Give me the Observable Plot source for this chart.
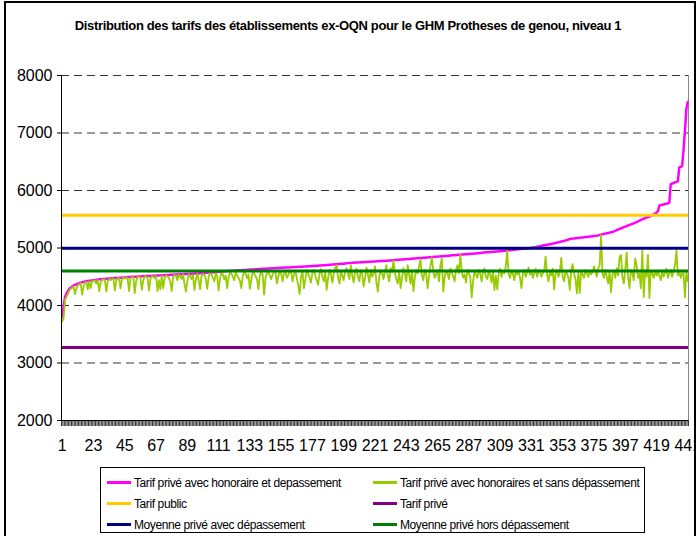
<!DOCTYPE html>
<html><head><meta charset="utf-8">
<script src="https://cdn.jsdelivr.net/npm/d3@7"></script>
<script src="https://cdn.jsdelivr.net/npm/@observablehq/plot@0.6"></script>
<style>
body{margin:0;background:#fff;font-family:Arial,"Liberation Sans",sans-serif;}
#frame{position:relative;width:696px;height:536px;overflow:hidden;background:#fff;}
#chart{position:absolute;left:0;top:0;}
#border{position:absolute;left:4px;top:1px;width:692px;height:545px;border:2px solid #000;box-sizing:border-box;pointer-events:none;}
#title{position:absolute;left:0;width:696px;top:18px;text-align:center;font-weight:bold;font-size:13px;letter-spacing:-0.35px;color:#000;}
#legend{position:absolute;left:100px;top:467px;width:545px;height:66px;border:1px solid #000;box-sizing:border-box;background:#fff;}
.item{position:absolute;height:14px;font-size:12px;letter-spacing:-0.4px;line-height:14px;white-space:nowrap;color:#000;}
.sw{display:inline-block;width:24px;height:3px;vertical-align:middle;margin-right:3px;position:relative;top:-1px;}
</style>
</head><body>
<div id="frame">
  <div id="chart"></div>
  <div id="title">Distribution des tarifs des établissements ex-OQN pour le GHM Protheses de genou, niveau 1</div>
  <div id="legend"></div>
  <div id="border"></div>
</div>
<script>
// Tarif privé avec honoraire et dépassement (sorted), rank 1..441
const tarifAvecDepassement = [
3800,3990,4150,4210,4250,4290,4310,4330,4345,4360,4370,4381,4390,4398,4405,4411,4416,4421,4426,4430,
4433,4437,4440,4443,4447,4450,4455,4457,4459,4461,4463,4465,4467,4469,4471,4473,4475,4477,4478,4480,
4481,4482,4484,4486,4488,4490,4492,4494,4496,4498,4500,4501,4502,4503,4505,4506,4507,4508,4510,4511,
4512,4514,4515,4516,4518,4519,4520,4522,4523,4524,4526,4527,4528,4530,4531,4532,4534,4535,4536,4538,
4539,4540,4541,4543,4544,4545,4546,4548,4549,4550,4551,4552,4553,4555,4556,4557,4558,4560,4562,4564,
4566,4568,4570,4572,4574,4576,4578,4580,4582,4584,4586,4588,4590,4592,4594,4596,4598,4600,4601,4603,
4604,4606,4608,4609,4611,4612,4614,4616,4617,4619,4620,4622,4624,4625,4627,4628,4630,4632,4633,4635,
4637,4638,4640,4641,4643,4644,4645,4647,4648,4650,4651,4652,4654,4655,4656,4658,4659,4660,4662,4663,
4664,4666,4667,4668,4670,4671,4672,4674,4675,4676,4678,4679,4680,4682,4683,4684,4686,4687,4688,4690,
4692,4694,4696,4698,4700,4702,4704,4706,4708,4710,4712,4714,4716,4718,4720,4722,4724,4726,4728,4731,
4734,4737,4740,4741,4743,4744,4746,4747,4749,4750,4752,4753,4755,4756,4758,4759,4761,4762,4764,4765,
4767,4768,4770,4771,4773,4774,4776,4777,4779,4780,4782,4784,4786,4788,4790,4792,4794,4796,4798,4800,
4802,4804,4806,4808,4810,4812,4814,4816,4818,4820,4822,4824,4826,4828,4830,4832,4834,4836,4838,4840,
4842,4844,4846,4848,4850,4852,4854,4856,4858,4860,4862,4864,4867,4870,4872,4874,4876,4878,4880,4882,
4884,4886,4888,4890,4892,4894,4896,4898,4900,4902,4904,4906,4908,4910,4913,4916,4920,4922,4924,4926,
4928,4930,4932,4934,4936,4938,4940,4942,4944,4946,4948,4950,4953,4956,4959,4962,4965,4968,4971,4974,
4977,4980,4983,4985,4987,4989,4990,4992,4993,4995,5000,5005,5010,5015,5020,5025,5030,5036,5042,5048,
5052,5056,5060,5064,5070,5076,5082,5088,5094,5100,5106,5112,5118,5124,5130,5138,5146,5156,5160,5163,
5166,5169,5172,5175,5178,5181,5184,5187,5190,5193,5196,5199,5202,5205,5208,5211,5214,5220,5226,5232,
5238,5244,5250,5256,5262,5268,5274,5280,5288,5300,5312,5322,5332,5342,5352,5362,5372,5382,5392,5402,
5410,5418,5428,5440,5452,5464,5476,5488,5500,5510,5520,5530,5540,5548,5555,5570,5585,5600,5615,5640,
5736,5745,5752,5758,5764,5770,5776,5790,6110,6120,6130,6140,6151,6160,6400,6410,6423,6700,7047,7420,7540
];
// Tarif privé avec honoraires et sans dépassement, same establishments
const tarifSansDepassement = [
3720,3780,4100,4150,4200,4260,4290,4310,4330,4200,4300,4350,4370,4385,4190,4330,4400,4410,4280,4420,
4300,4420,4430,4435,4380,4440,4250,4400,4450,4455,4450,4240,4420,4460,4440,4465,4470,4260,4430,4470,
4475,4300,4460,4480,4470,4485,4480,4250,4470,4490,4495,4215,4420,4495,4500,4480,4270,4440,4505,4500,
4490,4260,4460,4510,4500,4480,4515,4250,4440,4280,4520,4300,4470,4525,4510,4480,4420,4250,4490,4530,
4520,4440,4535,4500,4460,4540,4380,4240,4420,4540,4520,4460,4530,4270,4450,4550,4440,4280,4520,4550,
4530,4460,4290,4500,4560,4545,4480,4420,4560,4510,4260,4470,4565,4540,4450,4520,4300,4490,4570,4560,
4500,4440,4575,4520,4480,4430,4300,4520,4580,4560,4470,4540,4290,4450,4585,4560,4510,4460,4280,4520,
4590,4540,4190,4480,4560,4590,4520,4460,4540,4595,4580,4380,4500,4600,4550,4420,4560,4600,4480,4530,
4610,4580,4420,4540,4610,4470,4350,4200,4500,4600,4300,4450,4620,4560,4480,4400,4580,4620,4520,4440,
4360,4560,4630,4500,4420,4580,4270,4480,4620,4540,4400,4560,4650,4700,4480,4380,4590,4520,4440,4600,
4650,4560,4460,4700,4520,4400,4580,4640,4500,4420,4610,4560,4330,4480,4660,4540,4400,4620,4500,4560,
4680,4400,4240,4500,4620,4560,4460,4600,4700,4520,4420,4650,4580,4780,4560,4460,4380,4600,4300,4480,
4650,4560,4420,4700,4540,4380,4600,4250,4480,4620,4560,4680,4800,4520,4440,4620,4560,4300,4500,4680,
4835,4600,4480,4540,4620,4420,4700,4820,4240,4500,4600,4560,4460,4640,4580,4500,4420,4620,4700,4560,
4880,4600,4480,4540,4400,4620,4560,4500,4140,4420,4600,4540,4480,4620,4560,4420,4580,4640,4500,4460,
4600,4540,4400,4600,4270,4520,4280,4560,4640,4500,4600,4560,4680,4955,4540,4480,4600,4560,4440,4600,
4540,4600,4480,4300,4560,4620,4500,4580,4660,4540,4600,4480,4560,4640,4500,4580,4620,4500,4560,4600,
4850,4540,4420,4600,4520,4640,4280,4560,4620,4500,4580,4830,4500,4420,4600,4560,4480,4270,4620,4720,
4560,4460,4210,4580,4220,4600,4540,4480,4620,4560,4500,4600,4540,4580,4680,4600,4500,4640,4700,5225,
4560,4480,4620,4500,4380,4600,4230,4540,4600,4480,4650,4520,4840,4880,4500,4380,4620,4920,4500,4300,
4620,4560,4440,4820,4700,4480,4560,4300,4960,4150,4600,4500,4880,4130,4600,4560,4480,4600,4520,4580,
4520,4440,4600,4500,4580,4640,4480,4560,4620,4500,4600,4700,4960,4520,4600,4480,4560,4560,4140,4600,4420
];
const tarifPublic = 5570;
const tarifPrive = 3270;
const moyenneAvecDepassement = 4995;
const moyenneHorsDepassement = 4600;

const xTickLabels = [1,23,45,67,89,111,133,155,177,199,221,243,265,287,309,331,353,375,397,419,441];
const yTickValues = [2000,3000,4000,5000,6000,7000,8000];
const gridValues = [3000,4000,5000,6000,7000,8000];

const seriesNames = [
  "Tarif privé avec honoraire et depassement",
  "Tarif privé avec honoraires et sans dépassement",
  "Tarif public",
  "Tarif privé",
  "Moyenne privé avec dépassement",
  "Moyenne privé hors dépassement"
];
const seriesColors = ["#FF00FF","#99CC00","#FFCC00","#800080","#000080","#008000"];

const rows = tarifAvecDepassement.map((v, i) => ({rang: i + 1, avec: v, sans: tarifSansDepassement[i]}));
const n = rows.length;
const categoryEdges = d3.range(0, n + 1).map(k => k + 0.5);

const chart = Plot.plot({
  width: 696,
  height: 470,
  marginLeft: 61,
  marginRight: 8,
  marginTop: 75,
  marginBottom: 50,
  x: {domain: [0.5, n + 0.5], label: null},
  y: {domain: [2000, 8000], label: null},
  style: {fontFamily: "Arial, 'Liberation Sans', sans-serif", color: "#000", background: "transparent", overflow: "visible"},
  marks: [
    Plot.ruleY(gridValues, {stroke: "#333", strokeWidth: 1, strokeDasharray: "8,5"}),
    Plot.ruleX([n + 0.5], {stroke: "#888", strokeWidth: 1}),
    Plot.lineY(rows, {x: "rang", y: "avec", stroke: seriesColors[0], strokeWidth: 2.5}),
    Plot.lineY(rows, {x: "rang", y: "sans", stroke: seriesColors[1], strokeWidth: 1.8}),
    Plot.ruleY([tarifPublic], {stroke: seriesColors[2], strokeWidth: 3}),
    Plot.ruleY([tarifPrive], {stroke: seriesColors[3], strokeWidth: 3}),
    Plot.ruleY([moyenneAvecDepassement], {stroke: seriesColors[4], strokeWidth: 3}),
    Plot.ruleY([moyenneHorsDepassement], {stroke: seriesColors[5], strokeWidth: 3}),
    Plot.axisY({ticks: yTickValues, tickSize: 4, tickPadding: 5, tickFormat: d => String(d), fontSize: 16, label: null}),
    Plot.axisX({ticks: categoryEdges, tickSize: 6, tickFormat: () => "", stroke: "#333", strokeOpacity: 1, label: null}),
    Plot.axisX({ticks: xTickLabels, tickSize: 0, tickPadding: 19, tickFormat: d => String(d), fontSize: 16, label: null}),
    Plot.ruleX([0.5], {stroke: "#000", strokeWidth: 1}),
    Plot.ruleY([2000], {stroke: "#000", strokeWidth: 1})
  ]
});
document.getElementById("chart").appendChild(chart);

// legend
const legend = document.getElementById("legend");
const pos = [[6,8],[272,8],[6,29],[272,29],[6,50],[272,50]];
seriesNames.forEach((name, i) => {
  const d = document.createElement("div");
  d.className = "item";
  d.style.left = pos[i][0] + "px";
  d.style.top = pos[i][1] + "px";
  d.innerHTML = `<span class="sw" style="background:${seriesColors[i]}"></span>${name}`;
  legend.appendChild(d);
});
</script>
</body></html>
